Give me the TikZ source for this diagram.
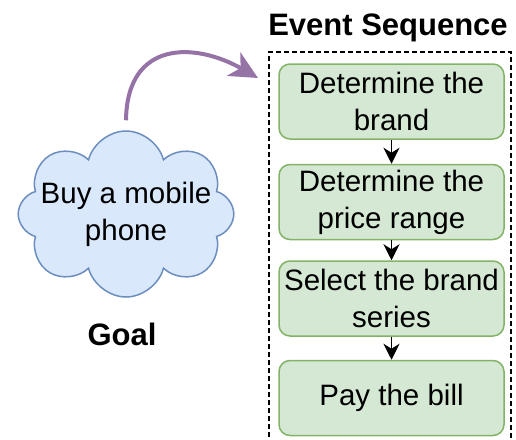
\documentclass[tikz,border=0pt]{standalone}
\usepackage{fontspec}
\setmainfont{Liberation Sans}
\usetikzlibrary{positioning,shapes.symbols,arrows.meta}
\definecolor{stepfill}{HTML}{D5E8D4}
\definecolor{stepline}{HTML}{82B366}
\definecolor{goalfill}{HTML}{DAE8FC}
\definecolor{goalline}{HTML}{6C8EBF}
\definecolor{goalarrow}{HTML}{9673A6}

\begin{document}
\begin{tikzpicture}[
		x=1pt,y=-1pt,
		every node/.style={font=\fontsize{29.5}{37}\selectfont,align=center},
		stepbox/.style={draw=stepline,fill=stepfill,line width=1.5pt,rounded corners=11pt,minimum width=225pt,minimum height=75pt,inner sep=0pt},
		goalcloud/.style={cloud,cloud puffs=8,cloud ignores aspect,draw=goalline,fill=goalfill,line width=1.5pt,minimum width=196pt,minimum height=166pt,inner ysep=0pt,inner xsep=-13pt},
		heading/.style={font=\fontsize{31}{37}\selectfont\bfseries},
		next/.style={-{Stealth[length=16pt,width=16pt,inset=5pt]},line width=1.5pt},
		goalflow/.style={-{Stealth[length=28pt,width=27pt,inset=8pt]},line width=4pt,draw=goalarrow},
		frame/.style={dashed,dash pattern=on 5pt off 3pt,line width=1.5pt}
		]
		\useasboundingbox (0,0) rectangle (516,439);
		% event sequence
		\node[heading,anchor=base] (title) at (388,35) {Event Sequence};
		\node[stepbox] (brand) at (391.5,101.5) {Determine the\\brand};
		\node[stepbox,below=24pt of brand] (price) {Determine the\\price range};
		\node[stepbox,below=20pt of price] (series) {Select the brand\\series};
		\node[stepbox,below=23pt of series] (bill) {Pay the bill};
		\draw[next] (brand) -- (price);
		\draw[next] (price) -- (series);
		\draw[next] (series) -- (bill);
		\coordinate (framebl) at (269,445);
		\coordinate (frametr) at (511,52);
		\coordinate (framebr) at (511,445);
		\draw[frame] (framebl) |- (frametr) -- (framebr);
		% goal
		\node[goalcloud] (cloud) at (126,214) {Buy a mobile\\phone};
		\node[heading,anchor=base] (goal) at (122,345) {Goal};
		\coordinate (goaltip) at (258,78);
		\draw[goalflow] ([yshift=10pt]cloud.north) .. controls (127,40) and (195,42) .. (goaltip);
	\end{tikzpicture}
\end{document}
